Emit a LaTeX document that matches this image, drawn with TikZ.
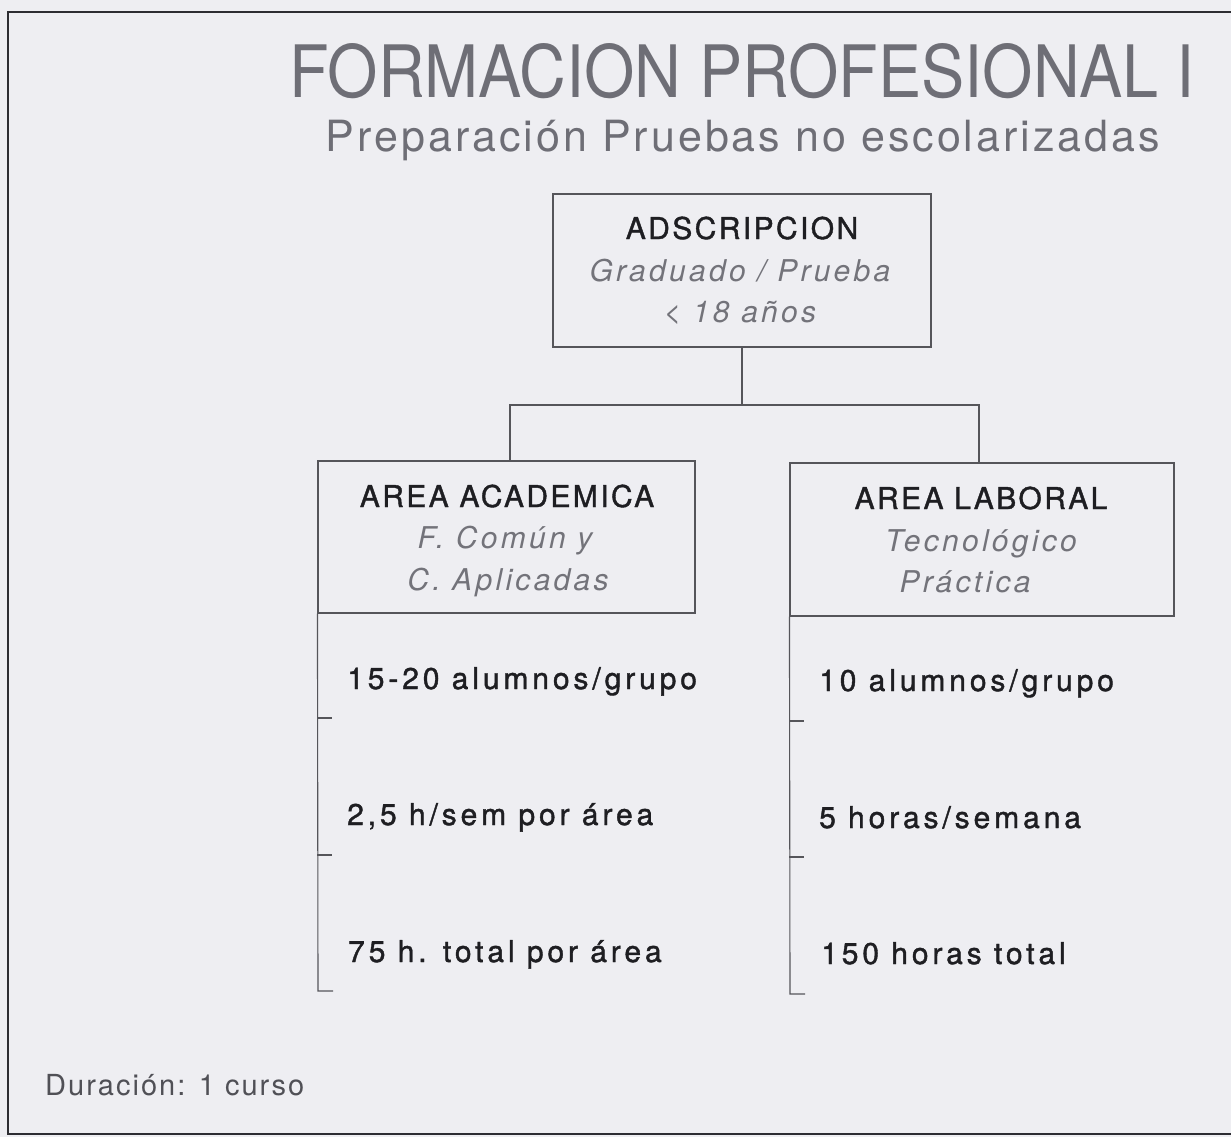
\documentclass[tikz,border=0pt]{standalone}
\usepackage{fontspec}
\usepackage{graphicx}
\setmainfont{TeX Gyre Heros}
\newfontfamily\bodyfont[LetterSpace=13, FakeBold=1.3]{TeX Gyre Heros}
\newfontfamily\headfont[LetterSpace=8, FakeBold=1.3]{TeX Gyre Heros}
\newfontfamily\subfont[LetterSpace=11]{TeX Gyre Heros}
\newfontfamily\titfont[LetterSpace=7]{TeX Gyre Heros}
\newfontfamily\durfont[LetterSpace=7]{TeX Gyre Heros}
\definecolor{paper}{RGB}{238,238,242}
\definecolor{ink}{RGB}{30,30,34}
\definecolor{lightink}{RGB}{115,115,122}
\definecolor{titleink}{RGB}{110,110,118}
\definecolor{durink}{RGB}{80,80,86}
\definecolor{rulec}{RGB}{85,85,90}
\definecolor{framec}{RGB}{45,45,50}
\tikzset{
  boxnode/.style={draw=rulec, line width=1.1pt, rectangle, inner sep=0pt},
  conn/.style={draw=rulec, line width=1.1pt},
  headtxt/.style={anchor=base, inner sep=0pt, text=ink, font=\headfont\fontsize{30}{30}\selectfont},
  subtxt/.style={anchor=base, inner sep=0pt, text=lightink, font=\subfont\itshape\fontsize{30}{30}\selectfont},
  bodytxt/.style={anchor=base west, inner sep=0pt, text=ink, font=\bodyfont\fontsize{30}{30}\selectfont},
}
\begin{document}
\begin{tikzpicture}[x=1pt,y=-1pt]
\fill[paper] (0,0) rectangle (1231,1137);
\useasboundingbox (0,0) rectangle (1231,1137);
\draw[framec, line width=2pt] (1240,12) -- (8,12) -- (8,1134) -- (1240,1134);

% titles
\node[anchor=base, inner sep=0pt, text=titleink] (title) at (742,98)
  {\resizebox{905pt}{54pt}{\fontsize{70}{70}\selectfont FORMACION PROFESIONAL I}};
\node[anchor=base, inner sep=0pt, text=titleink, font=\titfont\fontsize{43}{43}\selectfont] (subtitle) at (743,152)
  {Preparación Pruebas no escolarizadas};

% boxes
\node[boxnode, minimum width=378pt, minimum height=153pt] (adsc) at (742,270.5) {};
\node[boxnode, minimum width=377pt, minimum height=152pt] (aa) at (506.5,537) {};
\node[boxnode, minimum width=384pt, minimum height=153pt] (al) at (982,539.5) {};

\node[headtxt] (adsc1) at (742,239) {ADSCRIPCION};
\node[subtxt]  (adsc2) at (740,281) {Graduado / Prueba};
\node[subtxt]  (adsc3) at (740,322) {< 18 años};

\node[headtxt] (aa1) at (507,507) {AREA ACADEMICA};
\node[subtxt]  (aa2) at (505,548) {F. Común y};
\node[subtxt]  (aa3) at (508,590) {C. Aplicadas};

\node[headtxt] (al1) at (981,509) {AREA LABORAL};
\node[subtxt]  (al2) at (981,551) {Tecnológico};
\node[subtxt]  (al3) at (965,592) {Práctica};

% tree connectors
\coordinate (jn) at (742,405);
\draw[conn] (adsc.south) -- (jn);
\draw[conn] ([xshift=3.5pt]aa.north) |- (jn);
\draw[conn] (jn) -| ([xshift=-3pt]al.north);

% left bracket
\coordinate (aab) at (318,991);
\draw[conn] (aa.south west) -- (aab) -- ++(15,0);
\draw[conn] (aa.south west |- 0,718) -- ++(15,0);
\draw[conn] (aa.south west |- 0,855) -- ++(15,0);
\node[bodytxt] (aat1) at (347,689) {15-20 alumnos/grupo};
\node[bodytxt] (aat2) at (347,825) {2,5 h/sem por área};
\node[bodytxt] (aat3) at (348,962) {75 h. total por área};

% right bracket
\coordinate (alb) at (790,994);
\draw[conn] (al.south west) -- (alb) -- ++(15,0);
\draw[conn] (al.south west |- 0,721) -- ++(15,0);
\draw[conn] (al.south west |- 0,857) -- ++(15,0);
\node[bodytxt] (alt1) at (819,691) {10 alumnos/grupo};
\node[bodytxt] (alt2) at (819,828) {5 horas/semana};
\node[bodytxt] (alt3) at (821,964) {150 horas total};

% footer
\node[anchor=base west, inner sep=0pt, text=durink, font=\durfont\fontsize{29}{29}\selectfont] (dur) at (45,1095) {Duración: 1 curso};
\end{tikzpicture}
\end{document}
